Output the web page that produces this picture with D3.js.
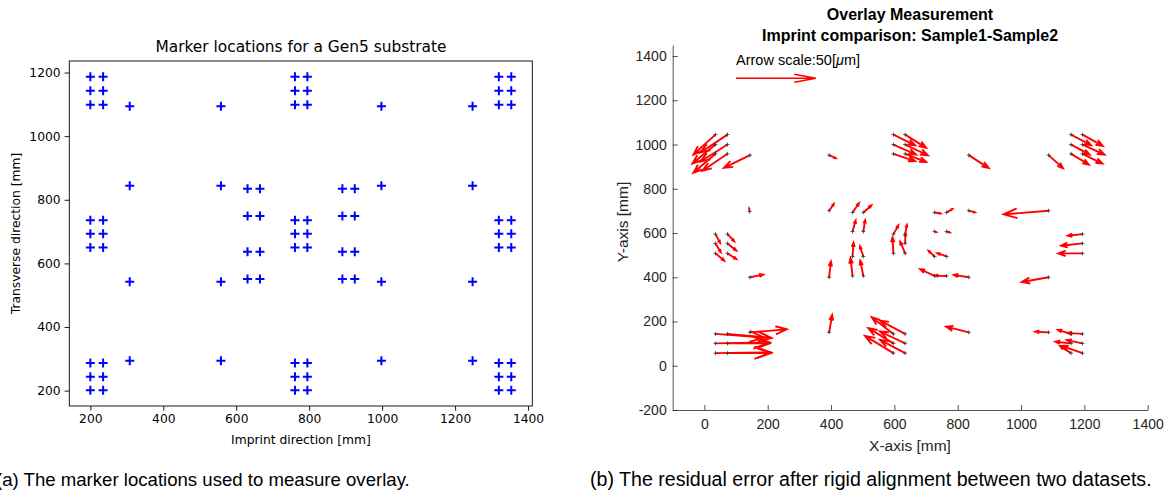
<!DOCTYPE html>
<html>
<head>
<meta charset="utf-8">
<script src="https://cdn.jsdelivr.net/npm/d3@7"></script>
<style>
  body { margin: 0; background: #fff; }
</style>
</head>
<body>
<svg id="fig" width="1166" height="493"></svg>
<script>
// ---- (a) marker locations [mm] ----
const cornerMarkers = [
    [200, 1187], [235, 1187], [200, 1143], [235, 1143], [200, 1099], [235, 1099],
    [761, 1187], [795, 1187], [761, 1143], [795, 1143], [761, 1099], [795, 1099],
    [1320, 1187], [1354, 1187], [1320, 1143], [1354, 1143], [1320, 1099], [1354, 1099],
    [200, 736], [235, 736], [200, 693], [235, 693], [200, 650], [235, 650],
    [761, 736], [795, 736], [761, 693], [795, 693], [761, 650], [795, 650],
    [1320, 736], [1354, 736], [1320, 693], [1354, 693], [1320, 650], [1354, 650],
    [200, 287], [235, 287], [200, 244], [235, 244], [200, 201], [235, 201],
    [761, 287], [795, 287], [761, 244], [795, 244], [761, 201], [795, 201],
    [1320, 287], [1354, 287], [1320, 244], [1354, 244], [1320, 201], [1354, 201]
];
const singleMarkers = [
    [308, 1094], [558, 1094], [998, 1094], [1248, 1094],
    [308, 844], [558, 844], [998, 844], [1248, 844],
    [308, 542], [558, 542], [998, 542], [1248, 542],
    [308, 294], [558, 294], [998, 294], [1248, 294]
];
const centreMarkers = [
    [631, 835], [665, 835], [631, 749], [665, 749], [631, 637], [665, 637], [631, 551], [665, 551],
    [891, 835], [925, 835], [891, 749], [925, 749], [891, 637], [925, 637], [891, 551], [925, 551]
];
const leftXTicks = [200, 400, 600, 800, 1000, 1200, 1400];
const leftYTicks = [200, 400, 600, 800, 1000, 1200];

// ---- (b) residual overlay: x [mm], y [mm], dx [um], dy [um] ----
const overlayVectors = [
    [35, 1045, -13.8, -17.9], [73, 1045, -16.9, -16.1],
    [35, 1000, -14.4, -17.0], [73, 1000, -16.9, -15.2],
    [35, 958, -13.8, -17.0], [73, 958, -15.7, -15.2],
    [144, 952, -16.3, -11.4], [394, 952, 4.1, -2.7],
    [597, 1045, 13.6, -9.6], [634, 1045, 13.2, -11.9],
    [597, 1000, 14.2, -9.0], [634, 1000, 14.2, -9.6],
    [597, 958, 13.6, -6.5], [634, 958, 13.2, -7.4],
    [835, 952, 12.5, -11.6], [1087, 952, 9.0, -11.6],
    [1158, 1045, 12.5, -9.6], [1194, 1045, 12.7, -10.1],
    [1158, 1000, 11.7, -9.0], [1194, 1000, 13.8, -9.0],
    [1158, 958, 11.1, -9.6], [1194, 958, 12.5, -8.7],
    [143, 697, -0.3, 2.7], [394, 701, 2.9, 6.0],
    [468, 693, 4.0, 8.3], [502, 693, 5.0, 6.3],
    [727, 693, 3.8, -0.9], [765, 693, 3.6, 3.0],
    [835, 701, 3.8, -1.5], [1087, 701, -28.2, -3.3],
    [468, 607, 1.9, 9.9], [502, 607, 1.1, 10.1],
    [727, 607, 0.9, -0.4], [765, 607, 1.9, -0.9],
    [35, 595, 2.9, -7.8], [73, 595, 4.2, -6.3],
    [597, 595, 3.1, 7.8], [634, 595, 1.1, 8.3], [1194, 595, -9.2, -1.5],
    [35, 553, 3.3, -7.8], [73, 553, 5.5, -6.3],
    [634, 553, 0.2, 9.0], [1194, 553, -13.4, -2.1],
    [35, 508, 5.5, -6.5], [73, 508, 5.5, -5.1],
    [597, 508, -0.6, 14.3], [634, 508, -3.1, 10.5], [1194, 508, -15.1, 0],
    [468, 494, 0.6, 12.3], [502, 494, -2.1, 9.0],
    [727, 494, -3.8, 5.1], [765, 494, -5.8, 3.0],
    [144, 400, 8.3, 2.4], [394, 400, 1.1, 14.1],
    [468, 406, -1.3, 15.9], [502, 406, -1.9, 13.7],
    [727, 406, -9.0, 6.0], [765, 406, -7.3, 0.3],
    [835, 400, -9.4, 2.1], [1087, 400, -16.8, -4.2],
    [35, 144, 30.6, -3.3], [73, 144, 27.6, -3.6],
    [35, 101, 33.9, 0.9], [73, 101, 26.3, 0],
    [35, 57, 34.9, 0.6], [73, 57, 27.0, 0],
    [144, 151, 23.0, 2.7], [394, 151, 1.9, 15.5],
    [597, 144, -13.6, 15.0], [634, 144, -15.7, 11.9],
    [597, 101, -15.7, 13.7], [634, 101, -15.7, 10.7],
    [597, 57, -17.8, 15.5], [634, 57, -15.7, 11.9],
    [835, 151, -14.2, 5.1], [1087, 151, -8.3, 0.6],
    [1158, 144, -8.2, 3.6], [1194, 144, -9.4, 0.9],
    [1158, 101, -9.8, 1.5], [1194, 101, -9.8, 3.0],
    [1158, 57, -6.7, 6.0], [1194, 57, -13.0, 6.5]
];
const arrowScaleUm = 50;      // reference arrow
const mmPerUm = 5.036;        // quiver scaling on the plot
const rightXTicks = [0, 200, 400, 600, 800, 1000, 1200, 1400];
const rightYTicks = [-200, 0, 200, 400, 600, 800, 1000, 1200, 1400];

const svg = d3.select('#fig');

// ================= left panel (matplotlib look) =================
const mplFont = 'DejaVu Sans, sans-serif';
const lx = d3.scaleLinear().domain([142.3, 1411.7]).range([69.3, 532.3]);
const ly = d3.scaleLinear().domain([151.7, 1236.3]).range([406, 61]);

const left = svg.append('g');

left.append('g')
    .attr('transform', 'translate(0,406)')
    .call(d3.axisBottom(lx).tickValues(leftXTicks).tickSize(4.7).tickPadding(4).tickFormat(d => String(d)))
    .call(g => g.select('.domain').remove())
    .call(g => g.selectAll('line').attr('stroke', '#000').attr('stroke-width', 0.9))
    .call(g => g.selectAll('text').attr('font-family', mplFont).attr('font-size', 12.3).attr('fill', '#000'));

left.append('g')
    .attr('transform', 'translate(69.3,0)')
    .call(d3.axisLeft(ly).tickValues(leftYTicks).tickSize(4.7).tickPadding(4).tickFormat(d => String(d)))
    .call(g => g.select('.domain').remove())
    .call(g => g.selectAll('line').attr('stroke', '#000').attr('stroke-width', 0.9))
    .call(g => g.selectAll('text').attr('font-family', mplFont).attr('font-size', 12.3).attr('fill', '#000'));

left.append('rect')
    .attr('x', 69.3).attr('y', 61)
    .attr('width', 463).attr('height', 345)
    .attr('fill', 'none')
    .attr('stroke', '#000')
    .attr('stroke-width', 0.9);

const allMarkers = cornerMarkers.concat(singleMarkers, centreMarkers);
left.append('g')
    .selectAll('path')
    .data(allMarkers)
    .join('path')
    .attr('d', d => `M${lx(d[0]) - 4.5},${ly(d[1])}h9M${lx(d[0])},${ly(d[1]) - 4.5}v9`)
    .attr('stroke', '#0000ff')
    .attr('stroke-width', 2)
    .attr('fill', 'none');

left.append('text')
    .attr('x', 301).attr('y', 52)
    .attr('text-anchor', 'middle')
    .attr('font-family', mplFont).attr('font-size', 15.4)
    .text('Marker locations for a Gen5 substrate');

left.append('text')
    .attr('x', 301).attr('y', 444)
    .attr('text-anchor', 'middle')
    .attr('font-family', mplFont).attr('font-size', 12.3)
    .text('Imprint direction [mm]');

left.append('text')
    .attr('transform', 'translate(20,233.5) rotate(-90)')
    .attr('text-anchor', 'middle')
    .attr('font-family', mplFont).attr('font-size', 12.3)
    .text('Transverse direction [mm]');

// ================= right panel (MATLAB look) =================
const mlFont = 'Liberation Sans, Arial, Helvetica, sans-serif';
const axisGrey = '#262626';
const rx = d3.scaleLinear().domain([-100, 1400]).range([672.7, 1147.7]);
const ry = d3.scaleLinear().domain([-200, 1450]).range([410, 45]);

const right = svg.append('g');

right.append('g')
    .attr('transform', 'translate(0,410)')
    .call(d3.axisBottom(rx).tickValues(rightXTicks).tickSizeInner(-5).tickSizeOuter(0).tickPadding(9).tickFormat(d => String(d)))
    .call(g => g.selectAll('line, path').attr('stroke', axisGrey).attr('stroke-width', 0.8))
    .call(g => g.selectAll('text').attr('font-family', mlFont).attr('font-size', 14).attr('fill', axisGrey));

right.append('g')
    .attr('transform', 'translate(672.7,0)')
    .call(d3.axisLeft(ry).tickValues(rightYTicks).tickSizeInner(-5).tickSizeOuter(0).tickPadding(6).tickFormat(d => String(d)))
    .call(g => g.selectAll('line, path').attr('stroke', axisGrey).attr('stroke-width', 0.8))
    .call(g => g.selectAll('text').attr('font-family', mlFont).attr('font-size', 14).attr('fill', axisGrey));

function arrowPath(x0, y0, x1, y1, headFrac, widthFrac) {
    const dx = x1 - x0, dy = y1 - y0;
    const len = Math.hypot(dx, dy);
    if (len < 0.01) return `M${x0},${y0}L${x1},${y1}`;
    const ux = dx / len, uy = dy / len;
    const h = len * headFrac, w = len * widthFrac;
    const bx = x1 - ux * h, by = y1 - uy * h;
    return `M${x0},${y0}L${x1},${y1}` +
        `M${bx - uy * w},${by + ux * w}L${x1},${y1}L${bx + uy * w},${by - ux * w}`;
}

right.append('g')
    .selectAll('path')
    .data(overlayVectors)
    .join('path')
    .attr('d', d => arrowPath(
        rx(d[0]), ry(d[1]),
        rx(d[0] + d[2] * mmPerUm), ry(d[1] + d[3] * mmPerUm),
        0.3, 0.11))
    .attr('fill', 'none')
    .attr('stroke', '#ff0000')
    .attr('stroke-width', 1.9)
    .attr('stroke-linejoin', 'miter');

// measurement points
right.append('g')
    .selectAll('path')
    .data(overlayVectors)
    .join('path')
    .attr('d', d => `M${rx(d[0]) - 2},${ry(d[1])}h4M${rx(d[0])},${ry(d[1]) - 2}v4`)
    .attr('stroke', '#333')
    .attr('stroke-width', 0.8);

// scale arrow
right.append('path')
    .attr('d', arrowPath(rx(100), ry(1300), rx(100 + arrowScaleUm * mmPerUm), ry(1300), 0.27, 0.05))
    .attr('fill', 'none')
    .attr('stroke', '#ff0000')
    .attr('stroke-width', 1.5);

const scaleLabel = right.append('text')
    .attr('x', rx(100)).attr('y', 65)
    .attr('font-family', mlFont).attr('font-size', 14.5)
    .attr('fill', '#000');
scaleLabel.append('tspan').text(`Arrow scale:${arrowScaleUm}[`);
scaleLabel.append('tspan').attr('font-style', 'italic').text('\u03bc');
scaleLabel.append('tspan').text('m]');

right.append('text')
    .attr('x', 910).attr('y', 20)
    .attr('text-anchor', 'middle')
    .attr('font-family', mlFont).attr('font-size', 16).attr('font-weight', 'bold')
    .text('Overlay Measurement');
right.append('text')
    .attr('x', 910).attr('y', 41)
    .attr('text-anchor', 'middle')
    .attr('font-family', mlFont).attr('font-size', 16).attr('font-weight', 'bold')
    .text('Imprint comparison: Sample1-Sample2');

right.append('text')
    .attr('x', 910).attr('y', 451)
    .attr('text-anchor', 'middle')
    .attr('font-family', mlFont).attr('font-size', 15.5).attr('fill', axisGrey)
    .text('X-axis [mm]');
right.append('text')
    .attr('transform', 'translate(628,222) rotate(-90)')
    .attr('text-anchor', 'middle')
    .attr('font-family', mlFont).attr('font-size', 15.5).attr('fill', axisGrey)
    .text('Y-axis [mm]');

// ================= captions =================
svg.append('text')
    .attr('x', -4).attr('y', 486)
    .attr('font-family', mlFont).attr('font-size', 18.6)
    .text('(a) The marker locations used to measure overlay.');
svg.append('text')
    .attr('x', 590).attr('y', 486)
    .attr('font-family', mlFont).attr('font-size', 19.6)
    .text('(b) The residual error after rigid alignment between two datasets.');
</script>
</body>
</html>
